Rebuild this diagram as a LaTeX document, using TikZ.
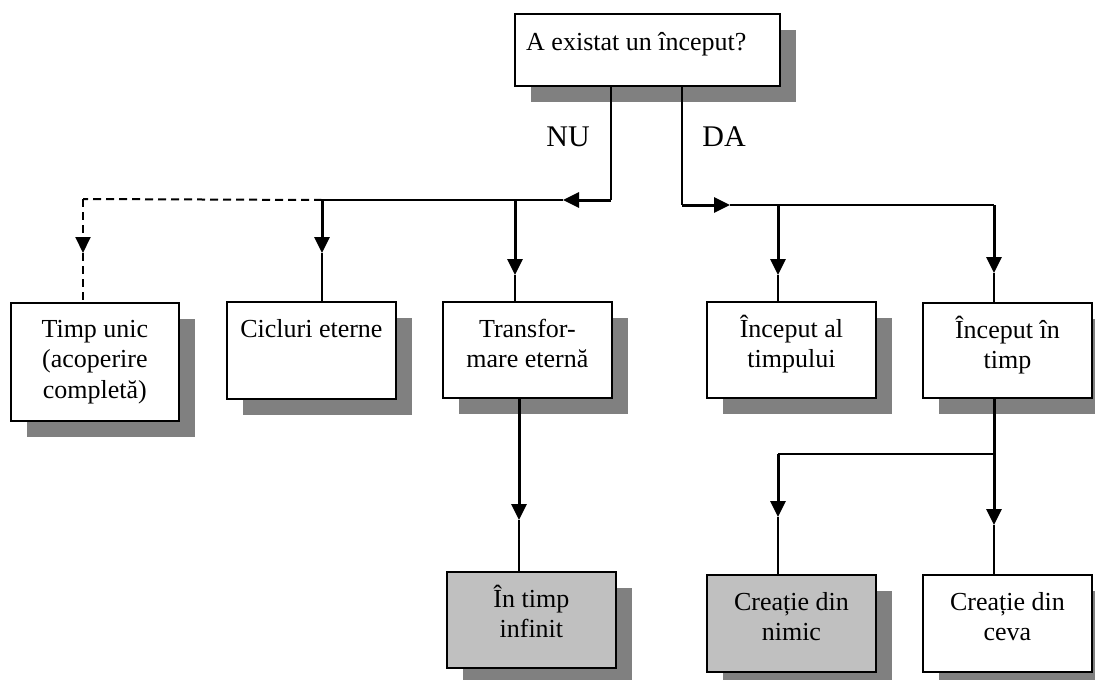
\documentclass[tikz,border=0pt]{standalone}
\usepackage{fontspec}
\setmainfont{Liberation Serif}
\usetikzlibrary{arrows.meta,shadows,calc}
\definecolor{shadowgray}{RGB}{128,128,128}
\definecolor{boxgray}{RGB}{192,192,192}
\newcommand{\mystrut}{\rule{0pt}{24pt}}
\begin{document}
\begin{tikzpicture}[x=1pt,y=-1pt,
  box/.style={draw=black,line width=1.8pt,fill=white,anchor=north west,inner sep=0pt,
    drop shadow={shadow xshift=16pt,shadow yshift=-16pt,fill=shadowgray,opacity=1}},
  graybox/.style={box,fill=boxgray},
  txt/.style={anchor=north,inner sep=0pt,align=center,font=\fontsize{26}{30.5}\selectfont},
  lab/.style={inner sep=0pt,font=\fontsize{30}{34}\selectfont},
  thk/.style={line width=3pt},
  thn/.style={line width=1.9pt},
  dsh/.style={line width=2pt,dash pattern=on 8pt off 5pt},
  arr/.style={-{Triangle[length=16pt,width=15pt]}}
]
\useasboundingbox (0,0) rectangle (1095,680);

% boxes
\node[box,minimum width=265pt,minimum height=72pt] (top) at (514,13) {};
\node[box,minimum width=168pt,minimum height=118pt] (timp) at (10,302) {};
\node[box,minimum width=169pt,minimum height=97pt] (cic) at (226,301) {};
\node[box,minimum width=169pt,minimum height=96pt] (trans) at (442,301) {};
\node[graybox,minimum width=169pt,minimum height=96pt] (inf) at (446,571) {};
\node[box,minimum width=169pt,minimum height=96pt] (incal) at (706,301) {};
\node[box,minimum width=169pt,minimum height=95pt] (inct) at (922,302) {};
\node[graybox,minimum width=169pt,minimum height=97pt] (nimic) at (706,574) {};
\node[box,minimum width=169pt,minimum height=97pt] (ceva) at (922,574) {};

% texts
\node[anchor=base west,inner sep=0pt,font=\fontsize{26}{30.5}\selectfont] (ttop) at ($(top.north west)+(12,37)$) {A existat un început?};
\node[txt] (ttimp) at ($(timp.north)+(0,11)$) {\mystrut Timp unic\\(acoperire\\completă)};
\node[txt] (tcic) at ($(cic.north)+(0,12)$) {\mystrut Cicluri eterne};
\node[txt] (ttrans) at ($(trans.north)+(0,12)$) {\mystrut Transfor-\\mare eternă};
\node[txt] (tinf) at ($(inf.north)+(0,12)$) {\mystrut În timp\\infinit};
\node[txt] (tincal) at ($(incal.north)+(0,12)$) {\mystrut Început al\\timpului};
\node[txt] (tinct) at ($(inct.north)+(0,12)$) {\mystrut Început în\\timp};
\node[txt] (tnimic) at ($(nimic.north)+(0,12)$) {\mystrut Creație din\\nimic};
\node[txt] (tceva) at ($(ceva.north)+(0,12)$) {\mystrut Creație din\\ceva};

% labels
\node[lab] (nu) at (568,137) {NU};
\node[lab] (da) at (724,137) {DA};

% NU branch
\coordinate (nuC) at (611,200);
\coordinate (nuT) at (563,200);
\coordinate (jT) at (515,200);
\coordinate (jC) at (322,200);
\coordinate (jD) at (83,199);
\coordinate (aT) at (515,275);
\coordinate (aC) at (322,253);
\coordinate (aD) at (83,253);
\draw[thn] (top.south -| nuC) -- (nuC);
\draw[thk,arr] (nuC) -- (nuT);
\draw[thn] (nuT) -- (jC);
\draw[thk,arr] (jT) -- (aT);
\draw[thn] (aT) -- (aT |- trans.north);
\draw[thk,arr] (jC) -- (aC);
\draw[thn] (aC) -- (aC |- cic.north);
\draw[dsh] (jC) -- (jD);
\draw[dsh,arr] (jD) -- (aD);
\draw[dsh] (aD) -- (aD |- timp.north);

% DA branch
\coordinate (daC) at (682,205);
\coordinate (daT) at (730,205);
\coordinate (jA) at (778,205);
\coordinate (jB) at (994,205);
\coordinate (aA) at (778,275);
\coordinate (aB) at (994,273);
\draw[thn] (top.south -| daC) -- (daC);
\draw[thk,arr] (daC) -- (daT);
\draw[thn] (daT) -- (jB);
\draw[thk,arr] (jA) -- (aA);
\draw[thn] (aA) -- (aA |- incal.north);
\draw[thk,arr] (jB) -- (aB);
\draw[thn] (aB) -- (aB |- inct.north);

% Transformare -> In timp infinit
\coordinate (aI) at (519,520);
\draw[thk,arr] (trans.south -| aI) -- (aI);
\draw[thn] (aI) -- (aI |- inf.north);

% Inceput in timp -> creatie
\coordinate (jE) at (994,454);
\coordinate (jF) at (778,454);
\coordinate (aE) at (994,525);
\coordinate (aF) at (778,517);
\draw[thk] (inct.south -| jE) -- (jE);
\draw[thk,arr] (jE) -- (aE);
\draw[thn] (aE) -- (aE |- ceva.north);
\draw[thn] (jE) -- (jF);
\draw[thk,arr] (jF) -- (aF);
\draw[thn] (aF) -- (aF |- nimic.north);
\end{tikzpicture}
\end{document}
